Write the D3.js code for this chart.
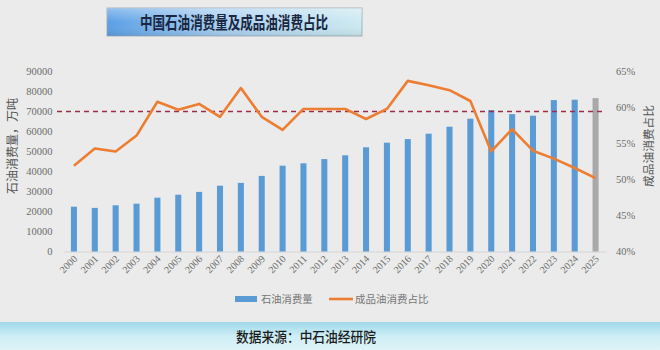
<!DOCTYPE html>
<html><head><meta charset="utf-8">
<script src="https://cdn.jsdelivr.net/npm/d3@7"></script>
<style>
html,body{margin:0;padding:0;background:#eaebea;}
svg{display:block;}
</style></head>
<body>
<svg id="chart" width="660" height="350"></svg>
<script>
// Years on the category axis
const years = ["2000","2001","2002","2003","2004","2005","2006","2007","2008","2009",
  "2010","2011","2012","2013","2014","2015","2016","2017","2018","2019",
  "2020","2021","2022","2023","2024","2025"];
// Oil consumption, 10k tonnes
const consumption = [22400,21800,23100,23900,26900,28400,29800,32900,34300,37800,
  42900,44100,46200,48100,52100,54400,56200,58900,62400,66400,
  70700,68700,67900,75700,75900,76700];
// Share of refined products in consumption, %
const refinedShare = [51.9,54.3,53.9,56.1,60.8,59.7,60.5,58.7,62.7,58.7,
  56.9,59.8,59.8,59.8,58.4,59.8,63.7,63.1,62.4,60.9,
  53.9,57.0,54.0,52.9,51.6,50.2];
const leftTicks = [0,10000,20000,30000,40000,50000,60000,70000,80000,90000];
const rightTicks = [40,45,50,55,60,65];
const referenceLevel = 70000;
const forecastYear = "2025";

const svg = d3.select("#chart");
const defs = svg.append("defs");

// Title banner gradient
const tg = defs.append("linearGradient").attr("id","titleGrad").attr("x1","0").attr("x2","1");
tg.append("stop").attr("offset","0").attr("stop-color","#5a9fe6");
tg.append("stop").attr("offset","0.45").attr("stop-color","#a9d0f2");
tg.append("stop").attr("offset","1").attr("stop-color","#cdeaf0");
const tgv = defs.append("linearGradient").attr("id","titleShade").attr("x1","0").attr("x2","0").attr("y1","0").attr("y2","1");
tgv.append("stop").attr("offset","0").attr("stop-color","#ffffff").attr("stop-opacity","0.35");
tgv.append("stop").attr("offset","0.5").attr("stop-color","#ffffff").attr("stop-opacity","0");
tgv.append("stop").attr("offset","1").attr("stop-color","#000000").attr("stop-opacity","0.08");

// Footer band gradient
const fg = defs.append("linearGradient").attr("id","footGrad").attr("x1","0").attr("x2","0").attr("y1","0").attr("y2","1");
fg.append("stop").attr("offset","0").attr("stop-color","#9fd8ea");
fg.append("stop").attr("offset","0.5").attr("stop-color","#cdeef5");
fg.append("stop").attr("offset","1").attr("stop-color","#dff3f7");

const margin = {left:63.5, right:54, top:71.5, bottom:98};
const W = 660, H = 350;
const x = d3.scaleBand().domain(years).range([margin.left, W - margin.right]).paddingInner(0.71).paddingOuter(0.355);
const yL = d3.scaleLinear().domain([0,90000]).range([251.5, 71.5]);
const yR = d3.scaleLinear().domain([40,65]).range([251.5, 71.5]);

const serif = "'Liberation Serif','DejaVu Serif',serif";
const cjk = "'Noto Sans CJK SC','Noto Sans',sans-serif";

// Title banner
svg.append("rect").attr("x",107).attr("y",8).attr("width",255).attr("height",28)
  .attr("fill","url(#titleGrad)").attr("stroke","#9aa7b3").attr("stroke-width",0.8);
svg.append("rect").attr("x",107).attr("y",8).attr("width",255).attr("height",28)
  .attr("fill","url(#titleShade)");
svg.append("text").attr("x",140).attr("y",28.5)
  .attr("textLength",188).attr("lengthAdjust","spacingAndGlyphs")
  .attr("font-family",cjk).attr("font-weight","bold").attr("font-size",16.5)
  .attr("fill","#1b2740").text("中国石油消费量及成品油消费占比");

// Left axis
const axL = svg.append("g").attr("transform",`translate(${margin.left},0)`)
  .call(d3.axisLeft(yL).tickValues(leftTicks).tickSize(0).tickPadding(11).tickFormat(d3.format("d")));
axL.select(".domain").remove();
axL.selectAll("text").attr("font-family",serif).attr("font-size",10.5).attr("fill","#6b6b6b");

// Right axis
const axR = svg.append("g").attr("transform",`translate(${W - margin.right},0)`)
  .call(d3.axisRight(yR).tickValues(rightTicks).tickSize(0).tickPadding(10).tickFormat(d => d + "%"));
axR.select(".domain").remove();
axR.selectAll("text").attr("font-family",serif).attr("font-size",10.5).attr("fill","#6b6b6b");

// Bottom axis
const axB = svg.append("g").attr("transform",`translate(0,${yL(0)})`)
  .call(d3.axisBottom(x).tickSize(0).tickPadding(0));
axB.select(".domain").attr("stroke","#d4d4d4");
axB.selectAll("text").attr("font-family",serif).attr("font-size",10).attr("fill","#6b6b6b")
  .attr("text-anchor","end").attr("dy",0)
  .attr("transform","translate(4,8) rotate(-45)");

// Axis titles
svg.append("text").attr("transform","translate(17,146) rotate(-90)").attr("text-anchor","middle")
  .attr("font-family",cjk).attr("font-size",12).attr("fill","#555").text("石油消费量，万吨");
svg.append("text").attr("transform","translate(653,146) rotate(-90)").attr("text-anchor","middle")
  .attr("font-family",cjk).attr("font-size",11.7).attr("fill","#555").text("成品油消费占比");

// Bars
svg.append("g").selectAll("rect").data(years).join("rect")
  .attr("x", d => x(d)).attr("width", x.bandwidth())
  .attr("y", (d,i) => yL(consumption[i]))
  .attr("height", (d,i) => yL(0) - yL(consumption[i]))
  .attr("fill", d => d === forecastYear ? "#a9a9a9" : "#5b9bd5");

// Reference dashed line
svg.append("line").attr("x1",57).attr("x2",W - margin.right)
  .attr("y1",yL(referenceLevel)).attr("y2",yL(referenceLevel))
  .attr("stroke","#9b2d4a").attr("stroke-width",1.4).attr("stroke-dasharray","5,4");

// Share line
const line = d3.line().x((d,i) => x(years[i]) + x.bandwidth()/2).y(d => yR(d));
svg.append("path").datum(refinedShare).attr("d",line).attr("fill","none")
  .attr("stroke","#ed7d31").attr("stroke-width",2.6).attr("stroke-linejoin","round");

// Legend
const lg = svg.append("g");
lg.append("rect").attr("x",235).attr("y",296).attr("width",22).attr("height",6).attr("fill","#5b9bd5");
lg.append("text").attr("x",261).attr("y",303).attr("font-family",cjk).attr("font-size",10.3).attr("fill","#777").text("石油消费量");
lg.append("line").attr("x1",329).attr("x2",353).attr("y1",299).attr("y2",299).attr("stroke","#ed7d31").attr("stroke-width",2.6);
lg.append("text").attr("x",355).attr("y",303).attr("font-family",cjk).attr("font-size",10.5).attr("fill","#777").text("成品油消费占比");

// Footer band with source
svg.append("rect").attr("x",0).attr("y",322).attr("width",W).attr("height",28).attr("fill","url(#footGrad)");
svg.append("text").attr("x",236).attr("y",341.5).attr("textLength",140).attr("lengthAdjust","spacingAndGlyphs")
  .attr("font-family",cjk).attr("font-size",14)
  .attr("font-weight",500).attr("fill","#1a1a1a").text("数据来源：中石油经研院");
</script>
</body></html>
